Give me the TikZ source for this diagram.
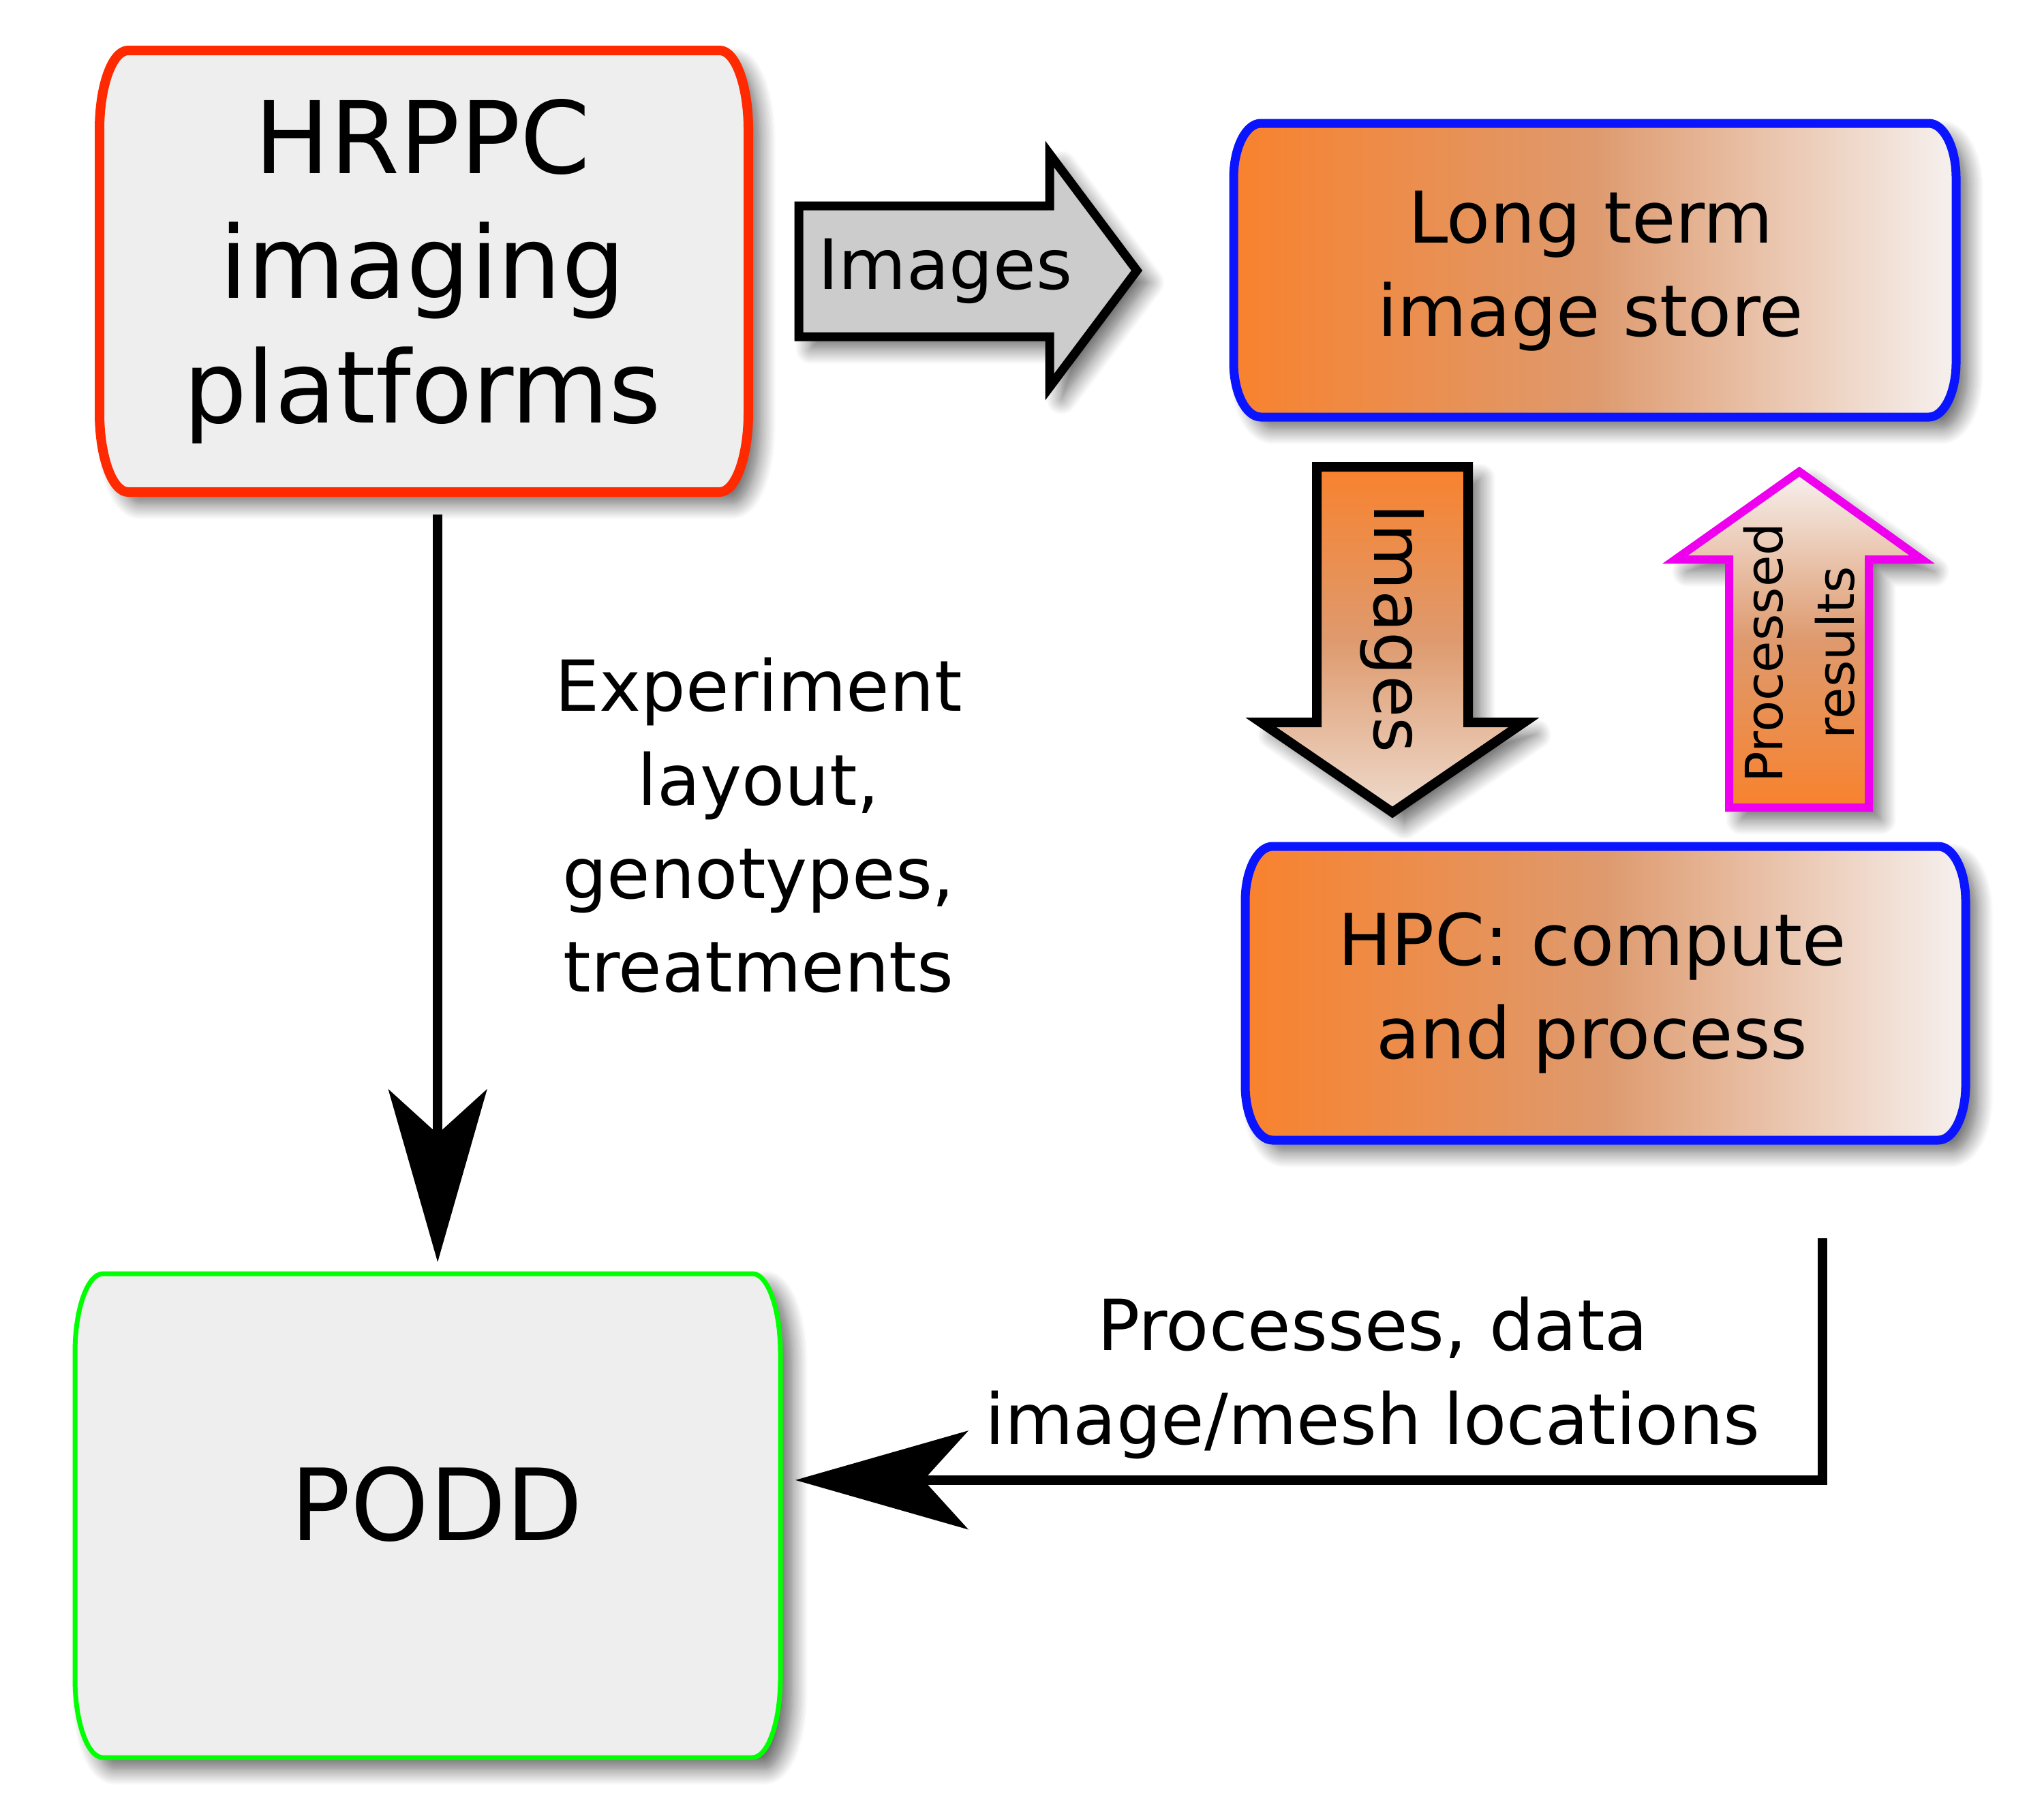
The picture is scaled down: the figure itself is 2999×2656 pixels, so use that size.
\documentclass[tikz,border=0pt]{standalone}
\usepackage{fontspec}
\setmainfont{DejaVu Sans}
\usetikzlibrary{arrows.meta,shadows.blur}

\definecolor{boxred}{RGB}{255,42,0}
\definecolor{boxgrey}{RGB}{238,238,238}
\definecolor{boxblue}{RGB}{10,20,255}
\definecolor{boxgreen}{RGB}{0,255,0}
\definecolor{boxmagenta}{RGB}{238,0,238}
\definecolor{fadeorange}{RGB}{248,130,46}
\definecolor{fademid}{RGB}{222,154,110}
\definecolor{fadelight}{RGB}{246,241,239}
\definecolor{fadepale}{RGB}{238,218,204}
\definecolor{arrowgrey}{RGB}{204,204,204}

% one pixel of the drawing
\newcommand{\pxu}{0.28453pt}
% box with elliptic corners: x1,y1,x2,y2,rx,ry
\newcommand{\roundframe}[6]{%
  (#1+#5,#2) -- (#3-#5,#2)
  arc[start angle=-90,end angle=0,x radius=#5,y radius=#6] -- (#3,#4-#6)
  arc[start angle=0,end angle=90,x radius=#5,y radius=#6] -- (#1+#5,#4)
  arc[start angle=90,end angle=180,x radius=#5,y radius=#6] -- (#1,#2+#6)
  arc[start angle=180,end angle=270,x radius=#5,y radius=#6] -- cycle}

\begin{document}
\begin{tikzpicture}[x=0.1mm,y=-0.1mm,
    softshadow/.style={blur shadow={shadow xshift=5pt,shadow yshift=-5pt,
        shadow blur radius=6.5pt,shadow blur steps=12,shadow opacity=60}},
    frame/.style={inner sep=0pt,outer sep=0pt,align=center},
    flowtext/.style={font=\fontsize{29.4}{39}\selectfont,align=center},
    boxtext/.style={font=\fontsize{29.8}{39}\selectfont,align=center},
    flowarrow/.style={line width=4pt,draw=black,draw opacity=1,fill opacity=1,
        -{Stealth[length=72pt,width=41pt,inset=18.5pt,fill=black]}},
  ]
  \useasboundingbox (0,0) rectangle (2999,2656);

  % boxes
  \path[softshadow,draw=boxred,fill=boxgrey,line width=14*\pxu]
    \roundframe{146}{74}{1098}{722}{42}{116};
  \node[frame,minimum width=952*\pxu,minimum height=648*\pxu,
    font=\fontsize{41.8}{52}\selectfont] (hrppc) at (620,398) {HRPPC\\imaging\\platforms};

  \path[softshadow,draw=boxblue,line width=13*\pxu,
    left color=fadeorange,right color=fadelight,middle color=fademid]
    \roundframe{1810}{181}{2870}{612}{40}{80};
  \node[frame,boxtext,minimum width=1060*\pxu,minimum height=431*\pxu]
    (store) at (2334,398) {Long term\\image store};

  \path[softshadow,draw=boxblue,line width=13*\pxu,
    left color=fadeorange,right color=fadelight,middle color=fademid]
    \roundframe{1827}{1242}{2884}{1673}{40}{80};
  \node[frame,boxtext] (hpc) at (2336,1457) {HPC: compute\\and process};

  \path[softshadow,draw=boxgreen,fill=boxgrey,line width=7*\pxu]
    \roundframe{110}{1869}{1145}{2579}{41}{116};
  \node[frame,minimum width=1035*\pxu,minimum height=710*\pxu,
    font=\fontsize{41.6}{48}\selectfont] (podd) at (641,2207) {PODD};

  % block arrows
  \filldraw[softshadow,fill=arrowgrey,draw=black,line width=13*\pxu]
    (1172,302) -- (1540,302) -- (1540,226) -- (1668,397)
    -- (1540,568) -- (1540,494) -- (1172,494) -- cycle;
  \node[font=\fontsize{29}{34}\selectfont] (imgright) at (1387,398) {Images};

  \path[softshadow,draw=black,line width=14*\pxu,
    top color=fadeorange,bottom color=fadepale,middle color=fademid]
    (1932,685) -- (2154,685) -- (2154,1060) -- (2236,1060)
    -- (2043,1192) -- (1850,1060) -- (1932,1060) -- cycle;
  \node[rotate=-90,font=\fontsize{28.5}{34}\selectfont] (imgdown) at (2043,922) {Images};

  \path[softshadow,draw=boxmagenta,line width=12*\pxu,
    top color=fadelight,bottom color=fadeorange,middle color=fademid]
    (2537,1185) -- (2537,821) -- (2458,821) -- (2640,692)
    -- (2820,821) -- (2742,821) -- (2742,1185) -- cycle;
  \node[rotate=90,align=center,font=\fontsize{21.5}{30}\selectfont]
    (results) at (2640,958) {Processed\\results};

  % connectors
  \draw[flowarrow,shorten <=9.4pt]
    ([xshift=6.3pt]hrppc.south) -- ([xshift=6.3pt]hrppc.south |- podd.north);
  \node[flowtext] (layout) at (1113,1211) {Experiment\\layout,\\genotypes,\\treatments};

  \coordinate (procstart) at (2674,1817);
  \draw[flowarrow,shorten >=2.4pt] (procstart) |- ([yshift=10pt]podd.east);
  \node[flowtext] (locations) at (2014,2022) {Processes, data\\image/mesh locations};
\end{tikzpicture}
\end{document}
